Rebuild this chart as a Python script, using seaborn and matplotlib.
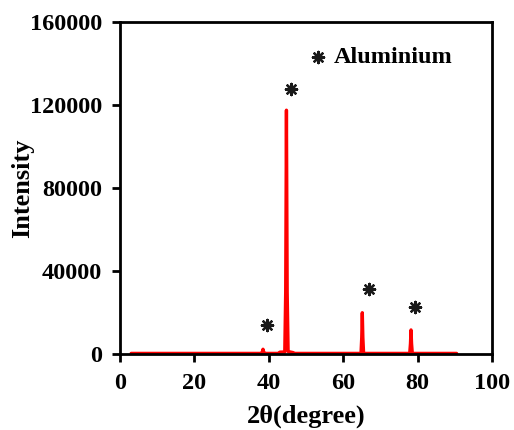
import matplotlib
matplotlib.use("Agg")
import matplotlib.pyplot as plt
import pandas as pd
import seaborn as sns

# XRD pattern: 2-theta (degree) vs. intensity
two_theta = [3.0, 38.1, 38.3, 38.45, 38.6, 38.8, 42.5, 43.0, 44.3, 44.55,
             44.75, 44.95, 45.2, 46.5, 47.0, 64.8, 65.0, 65.15, 65.3, 65.5,
             77.9, 78.1, 78.25, 78.4, 78.6, 90.5]
intensity = [300, 300, 1200, 2300, 1200, 300, 300, 900, 1000, 30000,
             117500, 30000, 1200, 700, 300, 300, 8000, 19900, 8000, 300,
             300, 5000, 11600, 5000, 300, 300]

# Aluminium reflection markers (x, y)
marker_x = [39.4, 46.1, 66.9, 79.3]
marker_y = [14000, 127600, 31200, 22500]

x_ticks = [0, 20, 40, 60, 80, 100]
y_ticks = [0, 40000, 80000, 120000, 160000]

sns.set_style("ticks")
plt.rcParams["font.family"] = ["Liberation Serif", "DejaVu Serif"]
plt.rcParams["font.weight"] = "bold"
plt.rcParams["text.color"] = "black"
plt.rcParams["axes.labelcolor"] = "black"
plt.rcParams["xtick.color"] = "black"
plt.rcParams["ytick.color"] = "black"

df = pd.DataFrame({"2theta": two_theta, "Intensity": intensity})
markers = pd.DataFrame({"x": marker_x, "y": marker_y})

fig = plt.figure(figsize=(5.14, 4.30), dpi=100)
ax = fig.add_axes([0.2335, 0.1767, 0.957 - 0.2335, 0.9488 - 0.1767])

sns.lineplot(data=df, x="2theta", y="Intensity", ax=ax, color="#ff0000",
             linewidth=2.4, estimator=None, sort=False)

star = (8, 2, 0)
sns.scatterplot(data=markers, x="x", y="y", ax=ax, marker=star, s=65,
                color="#1a1a1a", edgecolor="#1a1a1a", linewidth=1.7,
                legend=False)

# key for the marker
ax.scatter([53.3], [143300], marker=star, s=65, color="#1a1a1a",
           linewidths=1.7)
ax.text(57.6, 142800, "Aluminium", ha="left", va="center", fontsize=17.5,
        fontweight="bold", color="black")

ax.set_xlim(0, 100)
ax.set_ylim(0, 160000)
ax.set_xticks(x_ticks)
ax.set_yticks(y_ticks)
ax.set_xticklabels([str(v) for v in x_ticks], fontsize=17.5, fontweight="bold")
ax.set_yticklabels([str(v) for v in y_ticks], fontsize=17.5, fontweight="bold")
ax.tick_params(axis="both", direction="out", length=6, width=2, color="black")
ax.tick_params(axis="y", pad=7)
ax.tick_params(axis="x", pad=7.5)

for side in ["left", "right", "top", "bottom"]:
    ax.spines[side].set_visible(True)
    ax.spines[side].set_linewidth(2)
    ax.spines[side].set_color("black")

ax.set_xlabel("2θ(degree)", fontsize=19, fontweight="bold", labelpad=8)
ax.set_ylabel("Intensity", fontsize=19, fontweight="bold", labelpad=-3)

fig.savefig("out.png", dpi=100)
